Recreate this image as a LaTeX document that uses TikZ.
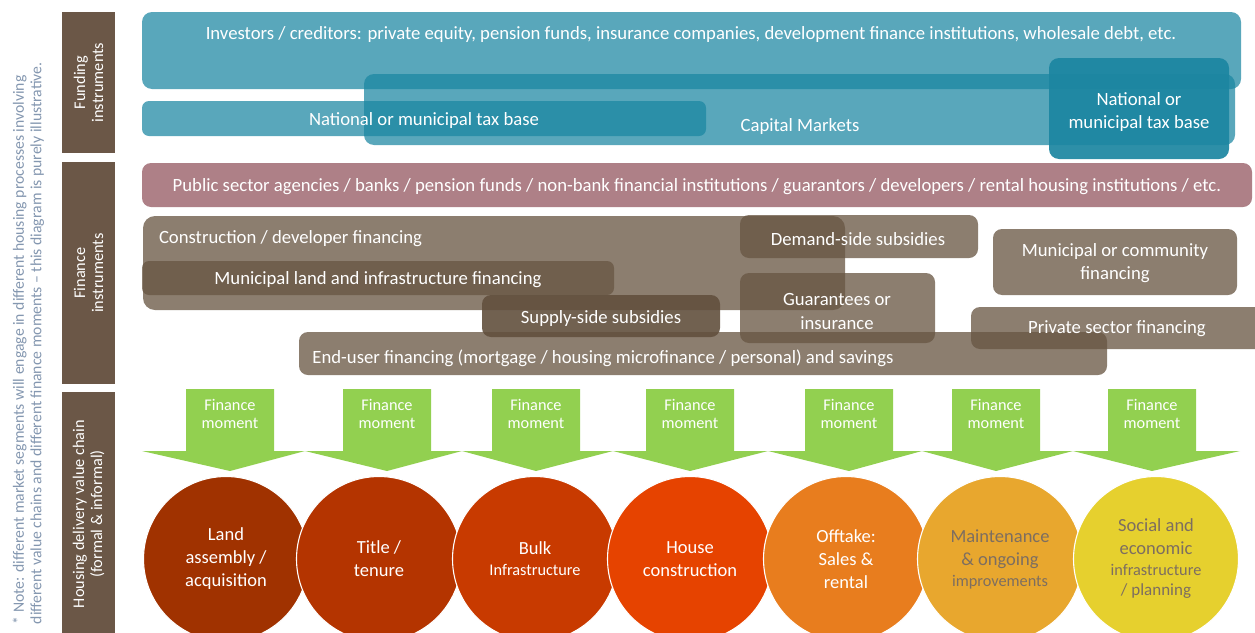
\documentclass[tikz,border=0pt]{standalone}
\usepackage{fontspec}
\setmainfont{Carlito}
\usetikzlibrary{calc}
\definecolor{labc}{RGB}{107,87,71}
\definecolor{notec}{RGB}{132,151,176}
\definecolor{fundc}{RGB}{26,134,162}
\definecolor{fundd}{RGB}{28,134,161}
\definecolor{pinkc}{RGB}{174,128,135}
\definecolor{finc}{RGB}{104,86,67}
\definecolor{find}{RGB}{98,80,62}
\definecolor{greenc}{RGB}{146,208,80}
\definecolor{cA}{RGB}{160,50,0}
\definecolor{cB}{RGB}{180,52,0}
\definecolor{cC}{RGB}{200,58,0}
\definecolor{cD}{RGB}{230,67,0}
\definecolor{cE}{RGB}{232,125,30}
\definecolor{cF}{RGB}{232,167,46}
\definecolor{cG}{RGB}{230,208,46}
\definecolor{greyt}{RGB}{125,110,96}
\begin{document}
\begin{tikzpicture}[x=1pt,y=-1pt,
  every node/.style={inner sep=0pt, outer sep=0pt},
  labbox/.style={fill=labc, rotate=90, minimum height=53pt, text=white, align=center, font=\fontsize{16.3}{18}\selectfont},
  fund/.style={fill=fundc, fill opacity=0.72, rounded corners=10pt},
  fundk/.style={fill=fundd, fill opacity=0.92, rounded corners=10pt},
  pinkbox/.style={fill=pinkc, rounded corners=9pt},
  fin/.style={fill=finc, fill opacity=0.76, rounded corners=9pt},
  fink/.style={fill=find, fill opacity=0.9, rounded corners=9pt},
  wt/.style={text=white, align=center, yshift=-2pt, font=\fontsize{18.7}{23.5}\selectfont},
  fmtext/.style={text=white, align=center, font=\fontsize{16.3}{18}\selectfont},
  stage/.style={circle, minimum size=165pt, draw=white, line width=1.1pt, align=center, font=\fontsize{18.5}{23}\selectfont}
]
\useasboundingbox (0,0) rectangle (1255,632);
\clip (0,0) rectangle (1255,632);
\fill[white] (0,0) rectangle (1255,632);

% note
\node[rotate=90, anchor=west, align=left, text=notec, font=\fontsize{15.7}{17.5}\selectfont] (note) at (28.5,624)
  {* Note: different market segments will engage in different housing processes involving\\different value chains and different finance moments -- this diagram is purely illustrative.};

% left labels
\node[labbox, minimum width=141pt] (lfund) at (88.5,82.5) {Funding\\instruments};
\node[labbox, minimum width=222pt] (lfin) at (88.5,273) {Finance\\instruments};
\node[labbox, minimum width=244pt] (lhous) at (88.5,514) {Housing delivery value chain\\(formal \& informal)};

% funding boxes
\node[fund, minimum width=1099pt, minimum height=77pt] (inv) at (691.5,50.5) {};
\node[fund, minimum width=871pt, minimum height=71pt] (cap) at (799.5,109.5) {};
\node[fund, minimum width=564pt, minimum height=35pt, rounded corners=7pt] (taxl) at (424,118.5) {};
\node[fundk, minimum width=180pt, minimum height=101pt] (taxr) at (1139,108.5) {};
\node[wt] (invt) at (691,33) {Investors / creditors: private equity, pension funds, insurance companies, development finance institutions, wholesale debt, etc.};
\node[wt] (taxlt) at (424,119) {National or municipal tax base};
\node[wt] (capt) at (800,125) {Capital Markets};
\node[wt] (taxrt) at (1139,110) {National or\\municipal tax base};

% public sector
\node[pinkbox, minimum width=1110pt, minimum height=44pt] (pub) at (697,185) {};
\node[wt] (pubt) at (697,185) {Public sector agencies / banks / pension funds / non-bank financial institutions / guarantors / developers / rental housing institutions / etc.};

% finance boxes
\node[fin, minimum width=702pt, minimum height=94pt, rounded corners=12pt] (cons) at (494,263) {};
\node[fin, minimum width=472pt, minimum height=34pt, rounded corners=7pt] (muni) at (378,278) {};
\node[fin, minimum width=238pt, minimum height=43pt] (dem) at (859,236.5) {};
\node[fin, minimum width=195pt, minimum height=70pt] (guar) at (837.5,308) {};
\node[fin, minimum width=808pt, minimum height=43pt] (endu) at (703,353.5) {};
\node[fink, minimum width=238pt, minimum height=42pt] (sup) at (601,316) {};
\node[fin, minimum width=244pt, minimum height=66pt] (mcf) at (1115,262) {};
\node[fin, minimum width=304pt, minimum height=42pt] (priv) at (1123,328) {};

\node[wt, anchor=west] (const) at (159,237) {Construction / developer financing};
\node[wt] (munit) at (378,278) {Municipal land and infrastructure financing};
\node[wt] (demt) at (858,237) {Demand-side subsidies};
\node[wt] (guart) at (837,309.5) {Guarantees or\\insurance};
\node[wt] (supt) at (601,317) {Supply-side subsidies};
\node[wt] (endut) at (603,356) {End-user financing (mortgage / housing microfinance / personal) and savings};
\node[wt] (mcft) at (1115,261) {Municipal or community\\financing};
\node[wt] (privt) at (1117,327) {Private sector financing};

% finance moment arrows
\foreach \c/\l/\r [count=\i] in {230/142/305, 387/305/462, 536/462/613, 690/613/768, 849/768/922, 996/922/1073, 1152/1073/1240}{
  \fill[greenc] (\c-44,389) -- (\c+44,389) -- (\c+44,451) -- (\r,451) -- (\c,471) -- (\l,451) -- (\c-44,451) -- cycle;
  \node[fmtext] (fm\i) at (\c,414) {Finance\\moment};
}

% value chain circles
\node[stage, fill=cA, text=white] (s1) at (226,559) {Land\\assembly /\\acquisition};
\node[stage, fill=cB, text=white] (s2) at (379,559) {Title /\\tenure};
\node[stage, fill=cC, text=white] (s3) at (535,559) {Bulk\\[-2pt]{\fontsize{16.3}{19}\selectfont Infrastructure}};
\node[stage, fill=cD, text=white] (s4) at (690,559) {House\\construction};
\node[stage, fill=cE, text=white] (s5) at (846,559) {Offtake:\\Sales \&\\rental};
\node[stage, fill=cF, text=greyt] (s6) at (1000,559) {Maintenance\\\& ongoing\\[-2pt]{\fontsize{16.3}{19}\selectfont improvements}};
\node[stage, fill=cG, text=greyt] (s7) at (1156,559) {Social and\\economic\\[-2pt]{\fontsize{16.3}{19}\selectfont infrastructure}\\[-3pt]{\fontsize{17}{19}\selectfont / planning}};
\end{tikzpicture}
\end{document}
